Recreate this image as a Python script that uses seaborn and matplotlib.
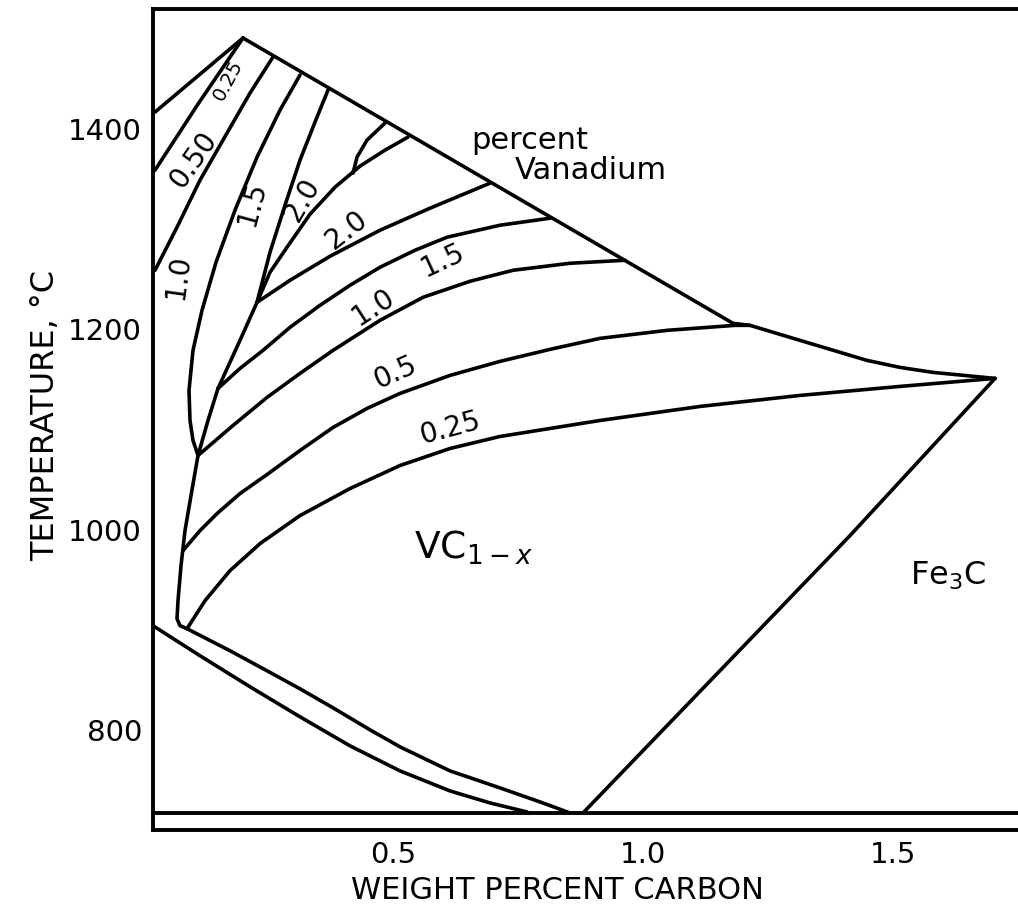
import matplotlib
matplotlib.use("Agg")
import matplotlib.pyplot as plt
import numpy as np
import pandas as pd
import seaborn as sns

# ---- phase-boundary and iso-vanadium lines (wt% C, deg C) ----
delta_edge_c = [0.024, 0.20]
delta_edge_t = [1417, 1491]

v025_steep_c = [0.024, 0.11, 0.20]
v025_steep_t = [1359, 1425, 1491]

v050_steep_c = [0.26, 0.214, 0.168, 0.114, 0.068, 0.024]
v050_steep_t = [1472, 1436, 1396, 1349, 1302, 1259]

v10_steep_c = [0.314, 0.274, 0.228, 0.184, 0.146, 0.118, 0.10, 0.092, 0.094, 0.10, 0.11]
v10_steep_t = [1454, 1419, 1372, 1319, 1267, 1219, 1179, 1139, 1109, 1089, 1074]

v15_steep_c = [0.37, 0.344, 0.314, 0.284, 0.254, 0.228, 0.194, 0.15]
v15_steep_t = [1439, 1407, 1369, 1324, 1277, 1227, 1189, 1141]

v20_steep_c = [0.53, 0.484, 0.434, 0.384, 0.334, 0.288, 0.254, 0.228]
v20_steep_t = [1392, 1379, 1363, 1342, 1315, 1282, 1257, 1227]

v20_arc_c = [0.484, 0.448, 0.428, 0.42]
v20_arc_t = [1406, 1389, 1372, 1356]

gamma_edge_c = [0.15, 0.13, 0.11, 0.096, 0.084, 0.076, 0.07, 0.068, 0.074, 0.088]
gamma_edge_t = [1141, 1109, 1074, 1034, 999, 964, 929, 911, 904, 901]

solidus_c = [0.20, 1.18, 1.214, 1.314, 1.448, 1.514, 1.58, 1.704]
solidus_t = [1491, 1206, 1204, 1189, 1169, 1162, 1157, 1151]

cementite_c = [1.704, 1.414, 0.88]
cementite_t = [1151, 994, 717]

v20_flat_c = [0.228, 0.294, 0.374, 0.474, 0.574, 0.694]
v20_flat_t = [1227, 1249, 1273, 1299, 1321, 1346]

v15_flat_c = [0.15, 0.194, 0.24, 0.294, 0.354, 0.414, 0.474, 0.544, 0.608, 0.714, 0.814]
v15_flat_t = [1141, 1161, 1179, 1202, 1224, 1244, 1262, 1279, 1292, 1304, 1311]

v10_flat_c = [0.11, 0.18, 0.248, 0.314, 0.38, 0.474, 0.56, 0.654, 0.74, 0.854, 0.964]
v10_flat_t = [1074, 1104, 1132, 1156, 1179, 1209, 1232, 1248, 1259, 1266, 1269]

v05_flat_c = [0.08, 0.114, 0.148, 0.194, 0.248, 0.314, 0.38, 0.448, 0.514, 0.614,
              0.714, 0.814, 0.914, 1.048, 1.184, 1.214]
v05_flat_t = [979, 999, 1016, 1036, 1055, 1079, 1102, 1121, 1136, 1154,
              1168, 1180, 1191, 1199, 1204, 1204]

v025_flat_c = [0.088, 0.124, 0.174, 0.234, 0.314, 0.414, 0.514, 0.614, 0.714, 0.914,
               1.114, 1.314, 1.514, 1.704]
v025_flat_t = [901, 929, 959, 986, 1014, 1041, 1064, 1081, 1093, 1109,
               1123, 1134, 1143, 1151]

ferrite_upper_c = [0.02, 0.114, 0.214, 0.314, 0.414, 0.514, 0.614, 0.694, 0.768]
ferrite_upper_t = [904, 874, 843, 813, 784, 759, 739, 727, 718]

ferrite_lower_c = [0.088, 0.174, 0.248, 0.314, 0.38, 0.454, 0.514, 0.614, 0.714, 0.794, 0.854]
ferrite_lower_t = [901, 879, 859, 841, 822, 800, 783, 759, 742, 728, 717]

eutectoid_t = 717

x_ticks = [0.5, 1.0, 1.5]
x_tick_labels = ["0.5", "1.0", "1.5"]
y_ticks = [800, 1000, 1200, 1400]
y_tick_labels = ["800", "1000", "1200", "1400"]

# labels on the iso-vanadium lines: text, carbon, temperature, angle, size
line_labels = [
    ("0.25", 0.17, 1449, 62, 14),
    ("0.50", 0.10, 1369, 55, 20),
    ("1.0", 0.07, 1252, 82, 20),
    ("1.5", 0.218, 1326, 75, 20),
    ("2.0", 0.318, 1329, 60, 20),
    ("2.0", 0.408, 1299, 38, 20),
    ("1.5", 0.60, 1269, 25, 20),
    ("1.0", 0.46, 1222, 33, 20),
    ("0.5", 0.504, 1157, 24, 20),
    ("0.25", 0.614, 1101, 15, 20),
]

curves = {
    "delta_edge": (delta_edge_c, delta_edge_t),
    "v025_steep": (v025_steep_c, v025_steep_t),
    "v050_steep": (v050_steep_c, v050_steep_t),
    "v10_steep": (v10_steep_c, v10_steep_t),
    "v15_steep": (v15_steep_c, v15_steep_t),
    "v20_steep": (v20_steep_c, v20_steep_t),
    "v20_arc": (v20_arc_c, v20_arc_t),
    "gamma_edge": (gamma_edge_c, gamma_edge_t),
    "solidus": (solidus_c, solidus_t),
    "cementite": (cementite_c, cementite_t),
    "v20_flat": (v20_flat_c, v20_flat_t),
    "v15_flat": (v15_flat_c, v15_flat_t),
    "v10_flat": (v10_flat_c, v10_flat_t),
    "v05_flat": (v05_flat_c, v05_flat_t),
    "v025_flat": (v025_flat_c, v025_flat_t),
    "ferrite_upper": (ferrite_upper_c, ferrite_upper_t),
    "ferrite_lower": (ferrite_lower_c, ferrite_lower_t),
}

rows = []
for name, (cs, ts) in curves.items():
    for i, (c, t) in enumerate(zip(cs, ts)):
        rows.append({"curve": name, "order": i, "carbon": c, "temp": t})
df = pd.DataFrame(rows)

sns.set_theme(style="white")
plt.rcParams["font.family"] = ["DejaVu Sans"]
plt.rcParams["text.color"] = "black"
plt.rcParams["axes.labelcolor"] = "black"

fig = plt.figure(figsize=(10.18, 9.23), dpi=100)
ax = fig.add_axes([0.1503, 0.1008, 0.8497, 0.8895])

sns.lineplot(data=df, x="carbon", y="temp", units="curve", estimator=None,
             sort=False, color="black", linewidth=2.6, ax=ax, legend=False)
for line in ax.get_lines():
    line.set_solid_joinstyle("round")
    line.set_solid_capstyle("round")
ax.axhline(eutectoid_t, color="black", linewidth=2.8)

ax.set_xlim(0.02, 1.75)
ax.set_ylim(700, 1520)
ax.set_xticks(x_ticks)
ax.set_xticklabels(x_tick_labels)
ax.set_yticks(y_ticks)
ax.set_yticklabels(y_tick_labels)
ax.tick_params(axis="x", direction="in", length=18, width=2.4, labelsize=21,
               pad=8, color="black", labelcolor="black")
ax.tick_params(axis="y", direction="in", length=14, width=2.4, labelsize=21,
               pad=8, color="black", labelcolor="black")
ax.set_xlabel("")
ax.set_ylabel("")
for side in ["left", "top", "bottom"]:
    ax.spines[side].set_visible(True)
    ax.spines[side].set_color("black")
    ax.spines[side].set_linewidth(2.8)
ax.spines["right"].set_visible(False)

for txt, c, t, ang, size in line_labels:
    ax.text(c, t, txt, rotation=ang, fontsize=size, ha="center", va="center",
            rotation_mode="anchor", color="black")

ax.text(0.774, 1389, "percent", fontsize=22, ha="center", va="center")
ax.text(0.896, 1359, "Vanadium", fontsize=22, ha="center", va="center")
ax.text(0.66, 982, r"VC$_{1-x}$", fontsize=27, ha="center", va="center")
ax.text(1.61, 954, r"Fe$_3$C", fontsize=23, ha="center", va="center")

fig.text(0.548, 0.035, "WEIGHT PERCENT CARBON", fontsize=22, ha="center", va="center")
fig.text(0.045, 0.55, "TEMPERATURE, \u00b0C", fontsize=23, ha="center", va="center",
         rotation=90)

fig.savefig("out.png", dpi=100, facecolor="white")
